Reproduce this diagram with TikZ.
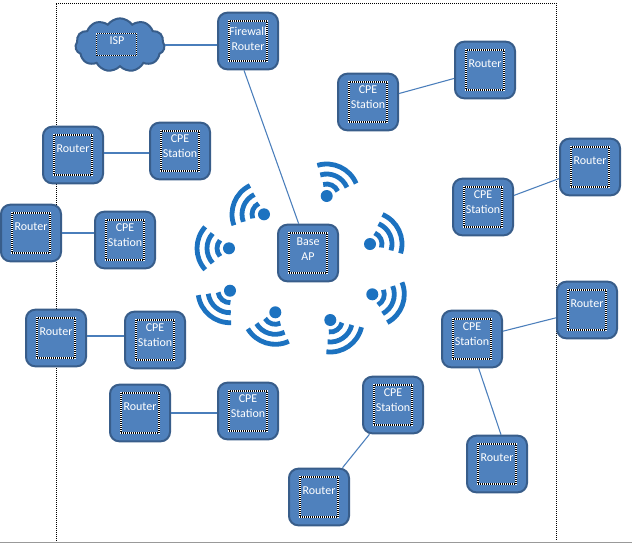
\documentclass[tikz,border=0pt]{standalone}
\usepackage{fontspec}
\setmainfont{Carlito}
\usetikzlibrary{shapes.symbols}
\definecolor{bfill}{HTML}{4F81BD}
\definecolor{bedge}{HTML}{385D8A}
\definecolor{conn}{HTML}{4A7EBB}
\definecolor{wifi}{HTML}{1C72C0}
\tikzset{
  devbox/.style={draw=bedge,fill=bfill,line width=1.5pt,rounded corners=7pt,minimum width=45pt,minimum height=42.5pt,inner sep=0pt},
  innerbox/.style={draw=white,line width=.9pt,minimum width=28.5pt,minimum height=30pt,inner sep=0pt,
    postaction={draw=black,line width=.9pt,dash pattern=on .75pt off .75pt}},
  devtext/.style={text=white,font=\fontsize{9pt}{11.3pt}\selectfont,align=center,inner sep=0pt},
  link/.style={draw=conn,line width=.8pt},
  arcw/.style={draw=wifi,line width=3.6pt},
  frame/.style={draw=black,line width=.6pt,dash pattern=on .75pt off .75pt}
}
% name, x, y, text, text offset
\newcommand{\devbox}[5]{%
  \node[devbox] (#1) at (#2,#3) {};
  \node[innerbox] (#1i) at (#2,#3) {};
  \node[devtext] (#1t) at ([yshift=#5]#1.center) {#4};
}
\newcommand{\router}[3]{\devbox{#1}{#2}{#3}{Router}{5pt}}
\newcommand{\cpe}[3]{\devbox{#1}{#2}{#3}{CPE\\Station}{3.5pt}}
% x, y, direction
\newcommand{\wifisym}[3]{%
  \begin{scope}[shift={(#1,#2)}]
    \fill[wifi] (0,0) circle (6);
    \foreach \r in {12,22,32}{
      \draw[arcw] ({#3-42}:\r) arc[start angle={#3-42},end angle={#3+42},radius=\r];
    }
  \end{scope}%
}
\begin{document}
\begin{tikzpicture}[x=.75pt,y=.75pt]
\useasboundingbox (0,0) rectangle (632,-544);
\fill[white] (0,0) rectangle (632,-544);
\draw[frame] (56,-541) -- (56,-3) -- (556,-3) -- (556,-541);
\draw[gray!80,line width=.9pt] (0,-542.5) -- (632,-542.5);

\devbox{fw}{248}{-41}{Firewall\\Router}{1.5pt}
\devbox{base}{308}{-253}{Base\\AP}{3pt}
\node[cloud,cloud puffs=11,cloud puff arc=110,aspect=1.9,draw=bedge,fill=bfill,line width=1.5pt,minimum width=67pt,minimum height=40pt,inner sep=0pt] (isp) at (120,-45) {};
\node[innerbox,minimum width=30pt,minimum height=16pt] (ispi) at (116.5,-44.5) {};
\node[devtext] (ispt) at (117,-41) {ISP};

\cpe{c1}{368}{-102}\router{r1}{485}{-70}
\cpe{c2}{483}{-207}\router{r2}{590}{-167}
\router{r3}{73}{-155}\cpe{c3}{180}{-151}
\router{r4}{31}{-233}\cpe{c4}{125}{-240}
\router{r5}{56}{-338}\cpe{c5}{155}{-340}
\router{r6}{140}{-413}\cpe{c6}{248}{-411}
\cpe{c7}{393}{-405}\router{r7}{319}{-497}
\cpe{c8}{472}{-339}\router{r8}{587}{-310}\router{r9}{497}{-464}

\draw[link] (isp.east) -- (isp.east -| fw.west);
\draw[link] ([xshift=-3]fw.south) -- ([xshift=-7]base.north);
\draw[link] (c1) -- (r1);
\draw[link] (c2) -- (r2);
\draw[link] ([yshift=1.5pt]r3.east) -- ([yshift=1.5pt]r3.east -| c3.west);
\draw[link] (r4.east) -- (r4.east -| c4.west);
\draw[link] ([yshift=1.5pt]r5.east) -- ([yshift=1.5pt]r5.east -| c5.west);
\draw[link] (r6.east) -- (r6.east -| c6.west);
\draw[link] (c7) -- (r7);
\draw[link] (c8) -- (r8);
\draw[link] ([xshift=5pt]c8.south) -- ([xshift=3pt]r9.north);

\wifisym{326.7}{-196}{65}
\wifisym{370}{-244}{25}
\wifisym{372.3}{-294.3}{-20}
\wifisym{330.3}{-320}{-55}
\wifisym{275.3}{-312.3}{-107}
\wifisym{230}{-290.7}{-130}
\wifisym{229}{-248.3}{180}
\wifisym{264}{-214.3}{158}
\end{tikzpicture}
\end{document}
